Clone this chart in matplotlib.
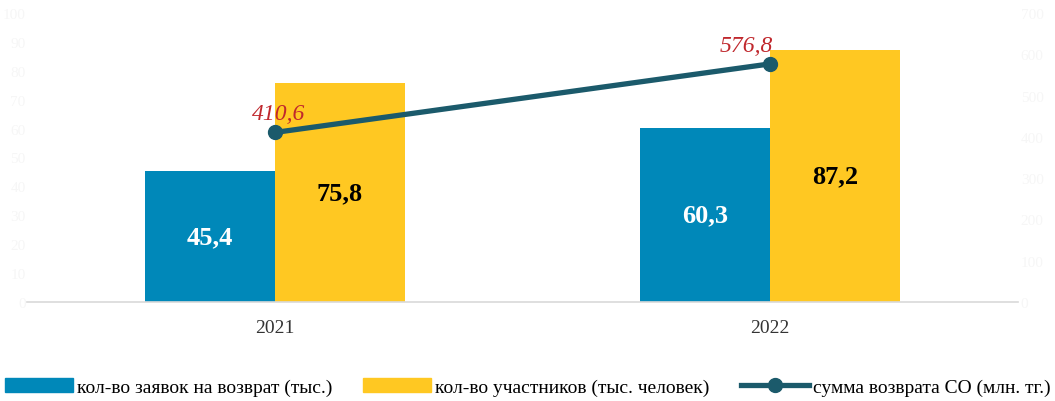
import matplotlib
matplotlib.use("Agg")
import matplotlib.pyplot as plt
import numpy as np
from matplotlib.patches import Patch
from matplotlib.lines import Line2D

years = ["2021", "2022"]
applications = [45.4, 60.3]
participants = [75.8, 87.2]
refund_sum = [410.6, 576.8]

plt.rcParams["font.family"] = ["Liberation Serif", "DejaVu Serif"]

blue = "#0088b9"
yellow = "#ffc822"
teal = "#1b5a6b"
faint = "#f6f6f6"

fig = plt.figure(figsize=(10.55, 4.02), dpi=100)
ax = fig.add_axes([27 / 1055, 1 - 303 / 402, 991 / 1055, 289 / 402])
ax2 = ax.twinx()

x = np.arange(len(years))
w = 0.262
ax.bar(x - w / 2, applications, w, color=blue, zorder=2)
ax.bar(x + w / 2, participants, w, color=yellow, zorder=2)

for xi, v in zip(x, applications):
    ax.text(xi - w / 2, v / 2, f"{v:.1f}".replace(".", ","), ha="center", va="center",
            color="white", fontsize=19, fontweight="bold")
for xi, v in zip(x, participants):
    ax.text(xi + w / 2, v / 2, f"{v:.1f}".replace(".", ","), ha="center", va="center",
            color="black", fontsize=19, fontweight="bold")

ax.set_xlim(-0.5, 1.5)
ax.set_ylim(0, 100)
ax.set_yticks(range(0, 101, 10))
ax.set_xticks(x)
ax.set_xticklabels(years, fontsize=14)

ax2.plot(x, refund_sum, color=teal, lw=3.8, marker="o", ms=10, zorder=3)
ax2.set_ylim(0, 700)
ax2.set_yticks(range(0, 701, 100))
offsets = [(3, 14), (-17, 13)]
for xi, v, off in zip(x, refund_sum, offsets):
    ax2.annotate(f"{v:.1f}".replace(".", ","), (xi, v), xytext=off, textcoords="offset points",
                 ha="center", va="center", color="#c0282d", fontsize=17, fontstyle="italic")

for a in (ax, ax2):
    for s in a.spines.values():
        s.set_visible(False)
ax.spines["bottom"].set_visible(True)
ax.spines["bottom"].set_color("#d9d9d9")
ax.spines["bottom"].set_linewidth(1.2)
ax.tick_params(axis="x", length=0, pad=12, colors="#333333")
ax.tick_params(axis="y", length=0, colors=faint, labelsize=11, pad=1)
ax2.tick_params(axis="y", length=0, colors=faint, labelsize=11, pad=2)

handles = [
    Patch(color=blue),
    Patch(color=yellow),
    Line2D([0], [0], color=teal, lw=3.8, marker="o", ms=10),
]
labels = ["кол-во заявок на возврат (тыс.)", "кол-во участников (тыс. человек)",
          "сумма возврата СО (млн. тг.)"]
fig.legend(handles, labels, loc="lower center", bbox_to_anchor=(0.5, -0.03), ncol=3,
           frameon=False, fontsize=14, columnspacing=1.6, handlelength=3.5,
           handletextpad=0.2, handleheight=0.75)

fig.savefig("out.png", dpi=100)
